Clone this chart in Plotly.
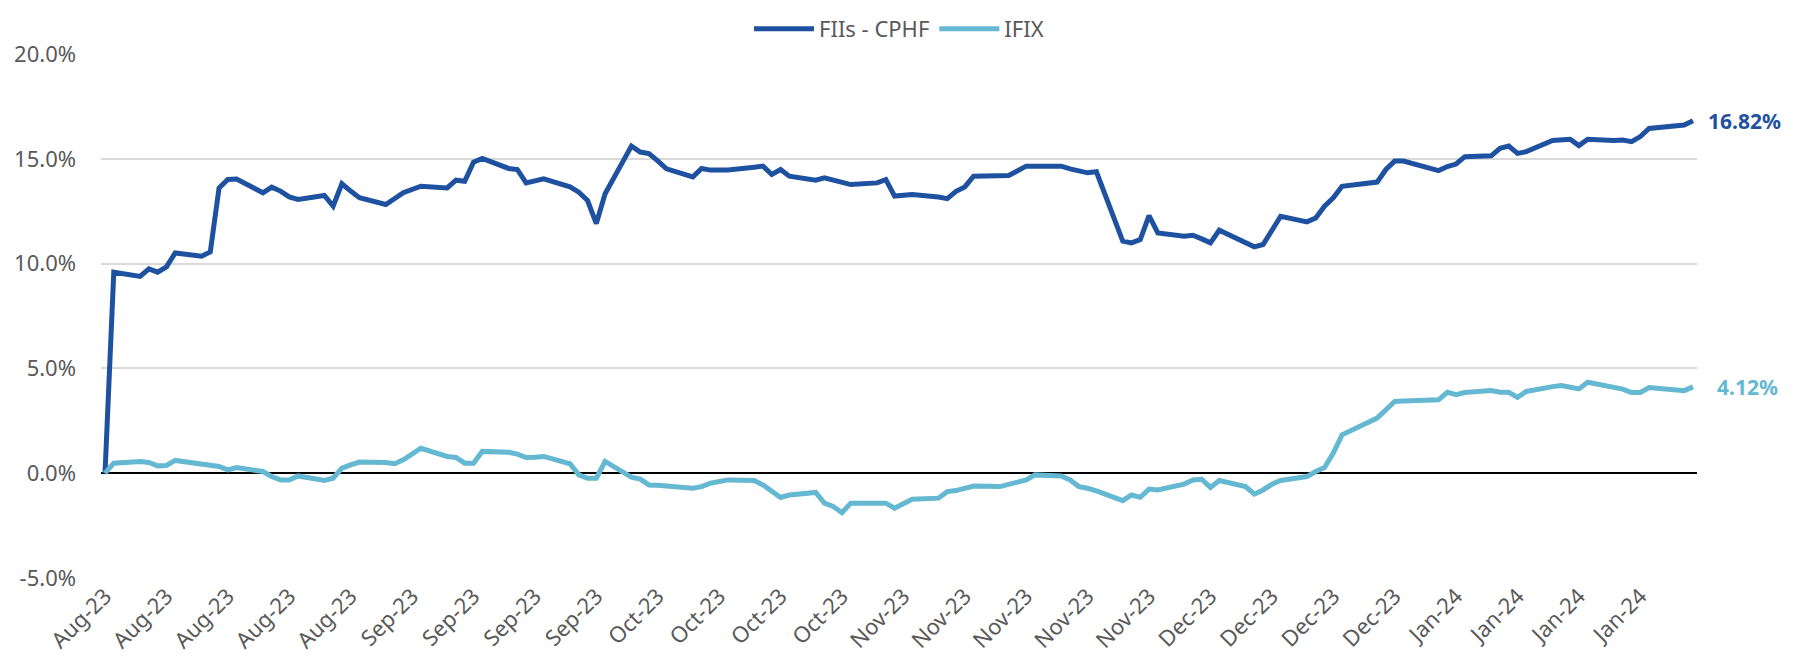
import pandas as pd
import plotly.graph_objects as go

# Trading days (weekdays, Brazilian market holidays removed)
start_date = "2023-08-03"
end_date = "2024-01-31"
holidays = ["2023-09-07", "2023-10-12", "2023-11-02", "2023-11-15", "2023-12-25", "2024-01-01"]
dates = pd.bdate_range(start_date, end_date, freq="C", holidays=holidays)

fii_cphf = [
    # Aug
    0.00, 9.59, 9.39, 9.75, 9.59, 9.84, 10.51, 10.35, 10.56, 13.61, 14.01, 14.04,
    13.38, 13.65, 13.46, 13.18, 13.06, 13.25, 12.74, 13.81, 13.46,
    # Sep
    13.14, 12.82, 13.10, 13.38, 13.69, 13.61, 13.98, 13.93, 14.84, 15.02,
    14.54, 14.49, 13.85, 13.95, 14.04, 13.66, 13.41, 13.01, 11.91, 13.33,
    # Oct
    15.61, 15.32, 15.25, 14.90, 14.52, 14.14, 14.54, 14.46, 14.47, 14.60, 14.65,
    14.25, 14.49, 14.17, 13.98, 14.09, 13.98, 13.93, 13.77, 13.85, 14.01,
    # Nov
    13.22, 13.30, 13.18, 13.10, 13.45, 13.66, 14.17, 14.19, 14.20, 14.65,
    14.65, 14.65, 14.52, 14.41, 14.33, 14.38, 11.07, 10.99, 11.15, 12.29,
    # Dec
    11.46, 11.31, 11.35, 11.18, 10.99, 11.59, 11.02, 10.80, 10.91, 11.59,
    12.26, 11.99, 12.18, 12.74, 13.14, 13.69, 13.89, 14.49, 14.89, 14.89,
    # Jan
    14.44, 14.63, 14.75, 15.10, 15.14, 15.50, 15.61, 15.26, 15.34, 15.87, 15.90,
    15.93, 15.63, 15.93, 15.87, 15.90, 15.82, 16.06, 16.45, 16.57, 16.61, 16.82,
]

ifix = [
    # Aug
    0.00, 0.48, 0.56, 0.51, 0.35, 0.37, 0.61, 0.43, 0.41, 0.32, 0.16, 0.27,
    0.08, -0.16, -0.32, -0.32, -0.13, -0.35, -0.24, 0.24, 0.40,
    # Sep
    0.53, 0.51, 0.45, 0.64, 1.19, 0.80, 0.75, 0.48, 0.48, 1.04,
    1.00, 0.91, 0.75, 0.76, 0.80, 0.45, -0.08, -0.24, -0.24, 0.56,
    # Oct
    -0.19, -0.28, -0.56, -0.57, -0.61, -0.72, -0.64, -0.48, -0.32, -0.35, -0.56,
    -0.88, -1.16, -1.04, -0.92, -1.43, -1.59, -1.88, -1.43, -1.43, -1.43,
    # Nov
    -1.67, -1.24, -1.19, -0.88, -0.83, -0.72, -0.61, -0.64, -0.53, -0.32,
    -0.08, -0.13, -0.32, -0.64, -0.72, -0.84, -1.31, -1.04, -1.15, -0.76,
    # Dec
    -0.80, -0.52, -0.32, -0.29, -0.68, -0.35, -0.64, -1.00, -0.80, -0.53,
    -0.35, -0.16, 0.08, 0.27, 0.96, 1.83, 2.63, 2.99, 3.42, 3.44,
    # Jan
    3.50, 3.86, 3.75, 3.85, 3.94, 3.86, 3.86, 3.62, 3.90, 4.13, 4.18,
    4.10, 4.02, 4.34, 4.13, 4.01, 3.85, 3.85, 4.09, 4.02, 3.94, 4.12,
]

series_names = ["FIIs - CPHF", "IFIX"]
colors = ["#1F51A1", "#64B8D2"]
y_ticks = [-5, 0, 5, 10, 15, 20]
y_tick_labels = ["-5.0%", "0.0%", "5.0%", "10.0%", "15.0%", "20.0%"]
x_ticks = pd.date_range(start_date, periods=26, freq="7D")

FONT = "Noto Sans"
GRAY = "#595959"

fig = go.Figure()
for name, vals, col in zip(series_names, [fii_cphf, ifix], colors):
    fig.add_trace(go.Scatter(
        x=dates, y=vals, name=name, mode="lines",
        line=dict(color=col, width=5),
    ))

# end-value labels
fig.add_annotation(x=dates[-1], y=fii_cphf[-1], text=f"<b>{fii_cphf[-1]:.2f}%</b>",
                   showarrow=False, xanchor="left", yanchor="middle", xshift=13,
                   font=dict(family=FONT, size=21, color=colors[0]))
fig.add_annotation(x=dates[-1], y=ifix[-1], text=f"<b>{ifix[-1]:.2f}%</b>",
                   showarrow=False, xanchor="left", yanchor="middle", xshift=22,
                   font=dict(family=FONT, size=21, color=colors[1]))

x0 = pd.Timestamp(start_date) - pd.Timedelta(hours=11)
x1 = pd.Timestamp(end_date) + pd.Timedelta(hours=11)

# page body has an 8px default margin; size the figure so it fits the window
fig.update_layout(
    width=1793, height=655,
    margin=dict(l=93, r=104, t=46, b=85, autoexpand=False),
    paper_bgcolor="white", plot_bgcolor="white",
    font=dict(family=FONT, size=22, color=GRAY),
    showlegend=True,
    legend=dict(orientation="h", x=0.5, xanchor="center", yref="container",
                y=1.0, yanchor="top", font=dict(size=22, color=GRAY),
                itemwidth=60, borderwidth=0),
    xaxis=dict(
        type="date", range=[x0, x1], tickvals=x_ticks, tickformat="%b-%y",
        tickangle=-45, showgrid=False, zeroline=False, showline=False,
        ticks="", tickfont=dict(size=22, color=GRAY), automargin=False,
    ),
    yaxis=dict(
        range=[-5, 20], tickvals=y_ticks, ticktext=y_tick_labels,
        showgrid=True, gridcolor="#D9D9D9", gridwidth=1.5,
        zeroline=True, zerolinecolor="#000000", zerolinewidth=1.5,
        ticks="", ticklabelstandoff=24, tickfont=dict(size=22, color=GRAY),
        automargin=False,
    ),
)

fig.write_html("out.html")
